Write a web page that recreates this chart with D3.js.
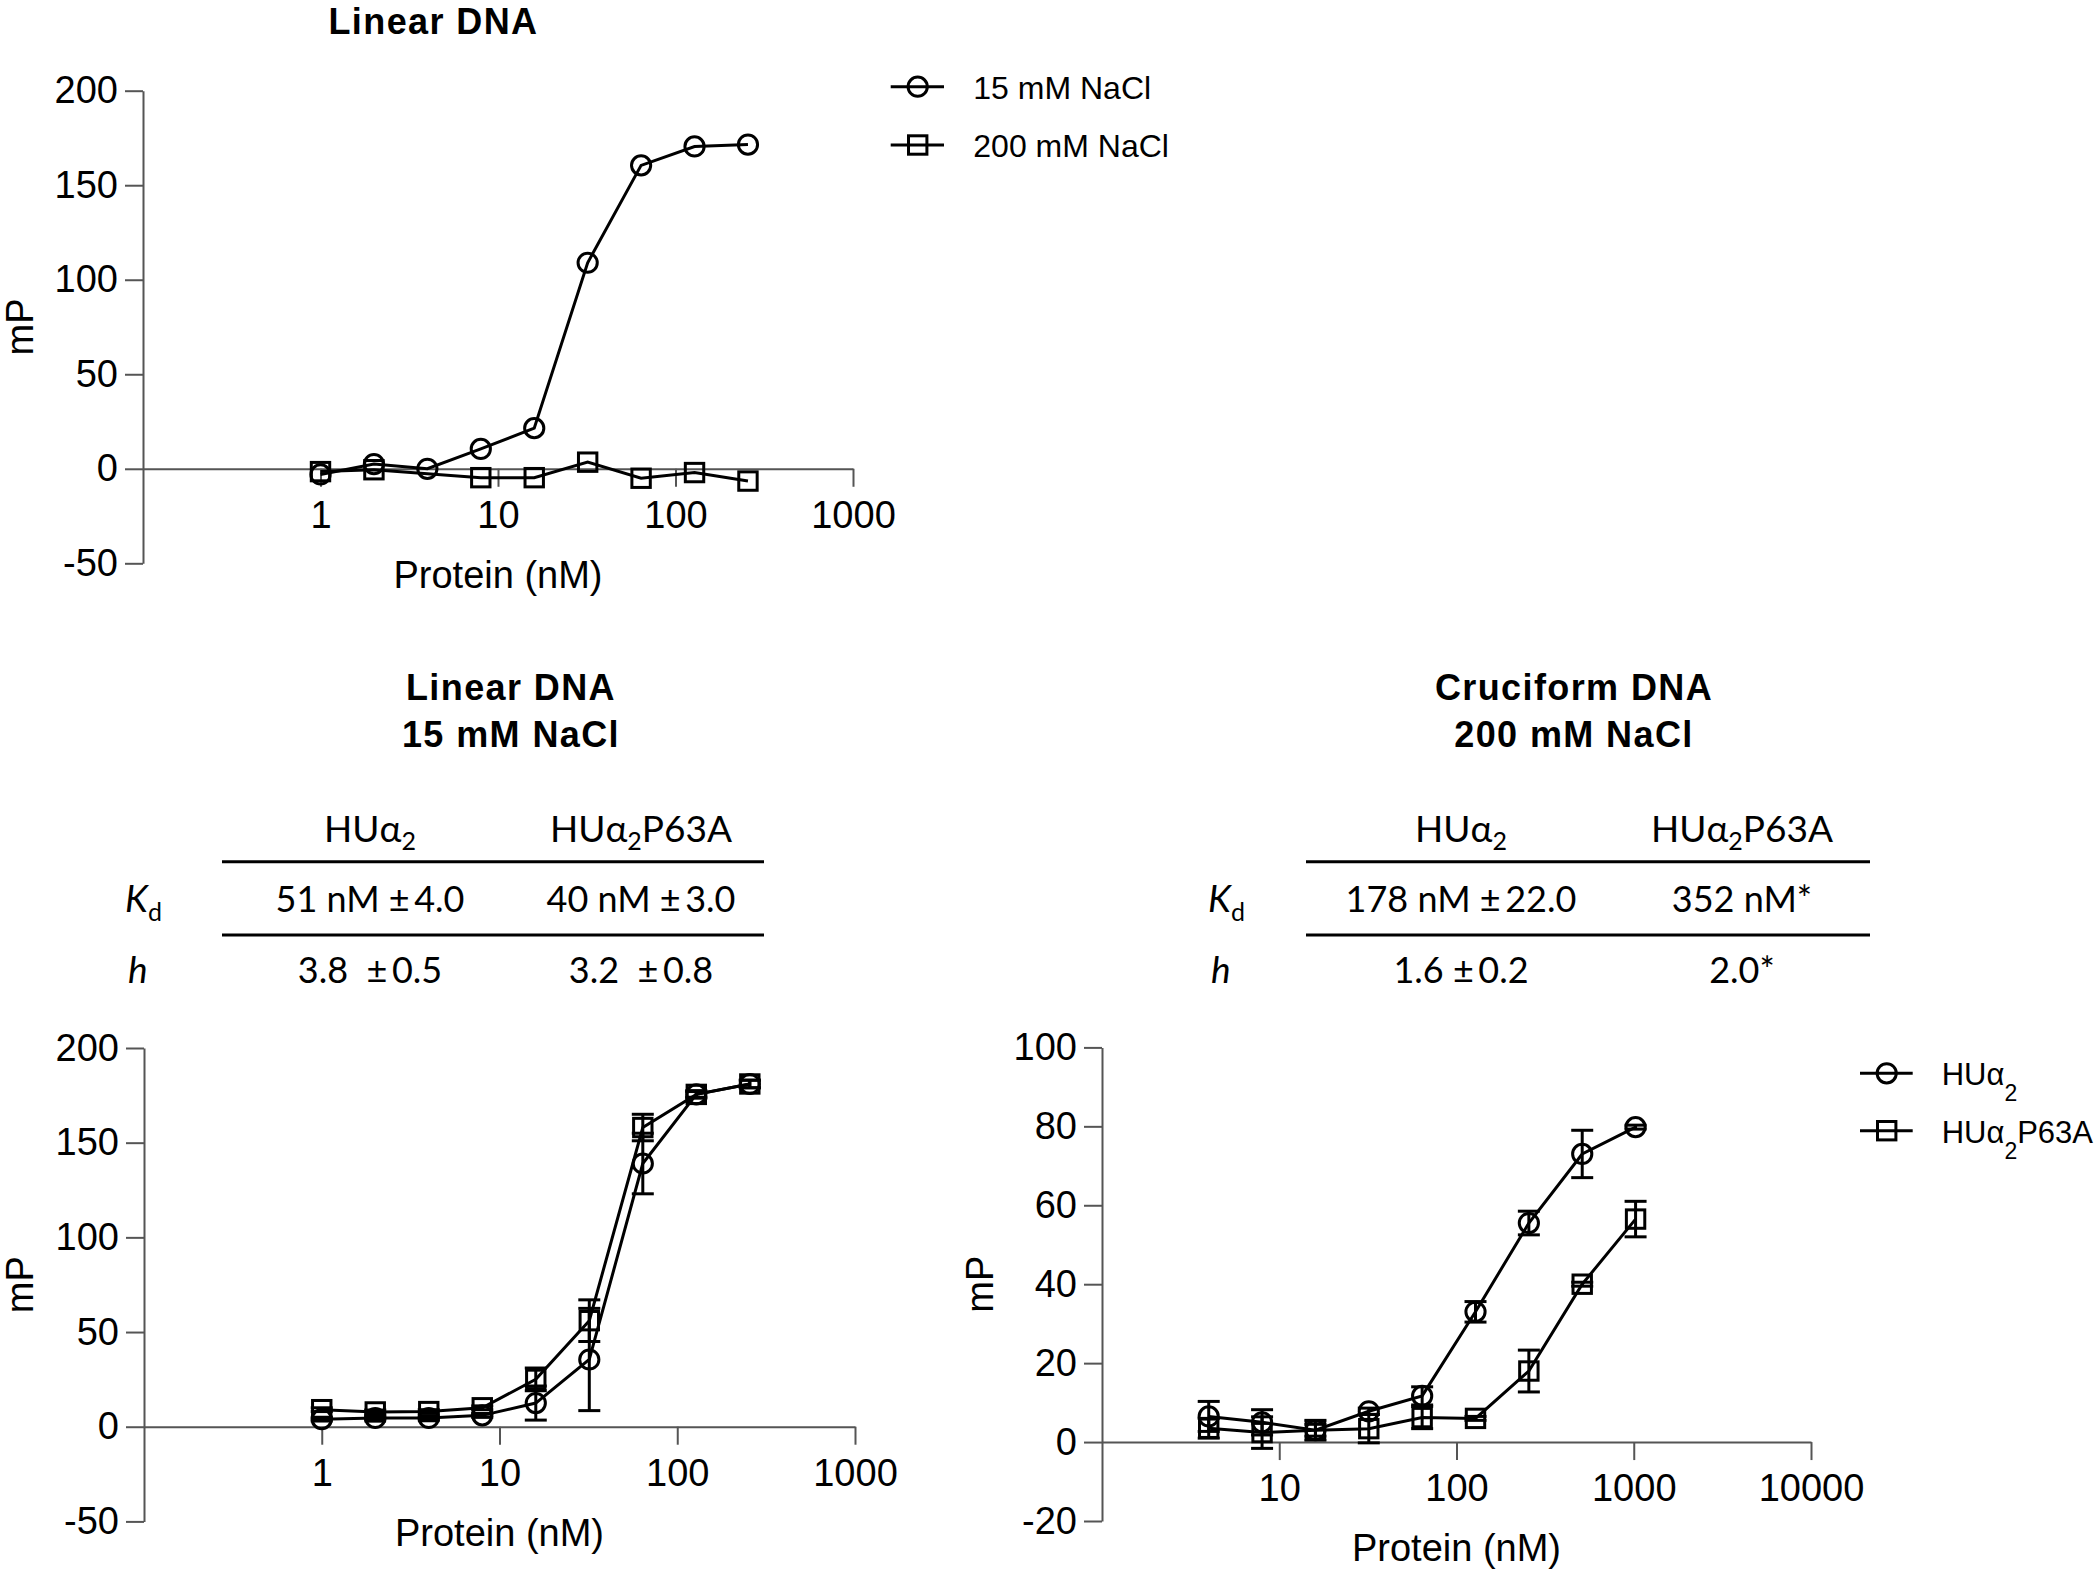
<!DOCTYPE html>
<html><head><meta charset="utf-8">
<script src="https://cdn.jsdelivr.net/npm/d3@7"></script>
<style>body{margin:0;background:#fff} svg{display:block} text{white-space:pre}</style>
</head><body>
<svg id="c" width="2100" height="1571"></svg>
<script>
// ---------- DATA ----------
// Panel A: Linear DNA, salt comparison
const concA15 = [1, 2, 4, 8, 16, 32, 64, 128, 256];
const mP15 = [-3, 2.5, 0, 10.5, 21.5, 109, 160.5, 170.5, 171.5];
const concA200 = [1, 2, 8, 16, 32, 64, 128, 256];
const mP200 = [-1.5, -0.5, -4.7, -4.7, 3.5, -5, -2, -6.5];
const legendA = ["15 mM NaCl", "200 mM NaCl"];

// Panel B: Linear DNA 15 mM NaCl
const concB = [1, 2, 4, 8, 16, 32, 64, 128, 256];
const linHU = [4, 4.6, 4.6, 6, 12.5, 35.5, 139, 175.5, 181];
const linHUerr = [1, 1, 1, 1, 9, 27, 16, 1.5, 2];
const linP63 = [9, 7.8, 8, 10, 25, 56, 158, 175.5, 181];
const linP63err = [1, 1, 1, 1, 6, 11, 7, 2, 2];

// Panel C: Cruciform DNA 200 mM NaCl
const concC = [4, 8, 16, 32, 64, 128, 256, 512, 1024];
const cruHU = [6.5, 5, 3, 7.8, 11.7, 33, 55.5, 73, 79.8];
const cruHUerr = [3.8, 3.2, 1.5, 0.8, 2.3, 2.6, 3, 6, 0.5];
const cruP63 = [3.5, 2.4, 3, 3.4, 6.2, 6, 18, 40, 56.5];
const cruP63err = [2.5, 4, 2.5, 3.6, 2.8, 0.5, 5.3, 0.5, 4.5];

const xTicksAB = [1, 10, 100, 1000];
const xTicksC = [10, 100, 1000, 10000];
const yTicksAB = [-50, 0, 50, 100, 150, 200];
const yTicksC = [-20, 0, 20, 40, 60, 80, 100];

// Tables
const tableLeft = {title: ["Linear DNA", "15 mM NaCl"], kd: ["51 nM ±\u20094.0", "40 nM ±\u20093.0"], h: ["3.8  ±\u20090.5", "3.2  ±\u20090.8"]};
const tableRight = {title: ["Cruciform DNA", "200 mM NaCl"], kd: ["178 nM ±\u200922.0", "352 nM*"], h: ["1.6 ±\u20090.2", "2.0*"]};

// ---------- DRAW ----------
const svg = d3.select("#c");
const AX = "#555";
const FONT = "'Liberation Sans', Arial, sans-serif";
const TFONT = "Lato, 'Open Sans', sans-serif";
const SW = 3;

function panel(cfg) {
  const x = d3.scaleLog().domain(cfg.xDomain).range(cfg.xRange);
  const y = d3.scaleLinear().domain(cfg.yDomain).range(cfg.yRange);
  const g = svg.append("g");

  const ya = g.append("g").attr("transform", `translate(${cfg.xRange[0]},0)`)
    .call(d3.axisLeft(y).tickValues(cfg.yTicks).tickSize(18).tickSizeOuter(0).tickPadding(7).tickFormat(d => String(d)));
  const xa = g.append("g").attr("transform", `translate(0,${y(0)})`)
    .call(d3.axisBottom(x).tickValues(cfg.xTicks).tickSize(18).tickSizeOuter(0).tickPadding(14).tickFormat(d => String(d)));
  [ya, xa].forEach(a => {
    a.select(".domain").attr("stroke", AX).attr("stroke-width", 2);
    a.selectAll(".tick line").attr("stroke", AX).attr("stroke-width", 2);
    a.selectAll("text").attr("font-family", FONT).attr("font-size", 38).attr("fill", "#000");
  });

  g.append("text").attr("x", (cfg.xRange[0] + cfg.xRange[1]) / 2).attr("y", y(0) + 119)
    .attr("text-anchor", "middle").attr("font-family", FONT).attr("font-size", 38).text("Protein (nM)");
  g.append("text").attr("transform", `translate(${cfg.yLabelX},${(cfg.yRange[0] + cfg.yRange[1]) / 2}) rotate(-90)`)
    .attr("text-anchor", "middle").attr("font-family", FONT).attr("font-size", 38).text("mP");

  const line = d3.line().x(d => x(d[0])).y(d => y(d[1]));
  cfg.series.forEach(s => {
    const pts = s.x.map((c, i) => [c, s.y[i], s.e ? s.e[i] : 0]);
    g.append("path").datum(pts).attr("d", line).attr("fill", "none").attr("stroke", "#000").attr("stroke-width", SW);
    if (s.e) {
      const eb = g.append("g").attr("stroke", "#000").attr("stroke-width", SW);
      pts.forEach(p => {
        if (!p[2]) return;
        const cx = x(p[0]), y1 = y(p[1] - p[2]), y2 = y(p[1] + p[2]);
        eb.append("line").attr("x1", cx).attr("x2", cx).attr("y1", y1).attr("y2", y2);
        eb.append("line").attr("x1", cx - 11).attr("x2", cx + 11).attr("y1", y1).attr("y2", y1);
        eb.append("line").attr("x1", cx - 11).attr("x2", cx + 11).attr("y1", y2).attr("y2", y2);
      });
    }
    pts.forEach(p => marker(g, s.shape, x(p[0]), y(p[1])));
  });
  return {x, y};
}

function marker(g, shape, cx, cy) {
  if (shape === "circle") {
    g.append("circle").attr("cx", cx).attr("cy", cy).attr("r", 9.6)
      .attr("fill", "none").attr("stroke", "#000").attr("stroke-width", SW);
  } else {
    const h = 9.2;
    g.append("rect").attr("x", cx - h).attr("y", cy - h).attr("width", 2 * h).attr("height", 2 * h)
      .attr("fill", "none").attr("stroke", "#000").attr("stroke-width", SW);
  }
}

function legend(items, x0, x1, mx, tx, ys, fs) {
  items.forEach((it, i) => {
    const yy = ys[i];
    svg.append("line").attr("x1", x0).attr("x2", x1).attr("y1", yy).attr("y2", yy)
      .attr("stroke", "#000").attr("stroke-width", SW);
    marker(svg, it.shape, mx, yy);
    const t = svg.append("text").attr("x", tx).attr("y", yy + fs * 0.39)
      .attr("font-family", FONT).attr("font-size", fs);
    if (it.parts) {
      it.parts.forEach(p => {
        t.append("tspan").attr("font-size", p.sub ? 23 : fs).attr("dy", p.dy || 0).text(p.t);
      });
    } else t.text(it.label);
  });
}

// Panel A
panel({xDomain: [0.1, 1000], xRange: [143, 853], yDomain: [-50, 200], yRange: [563.3, 90.7],
  xTicks: xTicksAB, yTicks: yTicksAB, yLabelX: 33,
  series: [{x: concA15, y: mP15, shape: "circle"}, {x: concA200, y: mP200, shape: "square"}]});
svg.append("text").attr("x", 433.5).attr("y", 34).attr("text-anchor", "middle")
  .attr("font-family", FONT).attr("font-weight", "bold").attr("font-size", 36).attr("letter-spacing", 1.4).text("Linear DNA");
legend([{shape: "circle", label: legendA[0]}, {shape: "square", label: legendA[1]}],
  890.7, 944, 917.7, 973.3, [86.7, 145], 32);

// Panel B
panel({xDomain: [0.1, 1000], xRange: [144, 855], yDomain: [-50, 200], yRange: [1521.4, 1048],
  xTicks: xTicksAB, yTicks: yTicksAB, yLabelX: 33,
  series: [{x: concB, y: linHU, e: linHUerr, shape: "circle"}, {x: concB, y: linP63, e: linP63err, shape: "square"}]});

// Panel C
panel({xDomain: [1, 10000], xRange: [1102, 1811], yDomain: [-20, 100], yRange: [1521, 1047.4],
  xTicks: xTicksC, yTicks: yTicksC, yLabelX: 993,
  series: [{x: concC, y: cruHU, e: cruHUerr, shape: "circle"}, {x: concC, y: cruP63, e: cruP63err, shape: "square"}]});
legend([
  {shape: "circle", parts: [{t: "HUα"}, {t: "2", sub: true, dy: 16}]},
  {shape: "square", parts: [{t: "HUα"}, {t: "2", sub: true, dy: 16}, {t: "P63A", dy: -16}]}
], 1860, 1912.7, 1886.7, 1941.7, [1073.3, 1130.7], 31);

// Tables
function table(tb, cx, lx0, lx1, c1, c2, labX) {
  tb.title.forEach((t, i) => svg.append("text").attr("x", cx).attr("y", [700, 746.7][i]).attr("text-anchor", "middle")
    .attr("font-family", FONT).attr("font-weight", "bold").attr("font-size", 36).attr("letter-spacing", 1.4).text(t));
  [c1, c2].forEach((c, i) => {
    const t = svg.append("text").attr("x", c).attr("y", 841.7).attr("text-anchor", "middle")
      .attr("font-family", TFONT).attr("font-size", 37);
    t.append("tspan").text("HUα");
    t.append("tspan").attr("font-size", 25).attr("dy", 8).text("2");
    if (i === 1) t.append("tspan").attr("dy", -8).text("P63A");
  });
  [861.7, 935].forEach(yy => svg.append("line").attr("x1", lx0).attr("x2", lx1).attr("y1", yy).attr("y2", yy)
    .attr("stroke", "#000").attr("stroke-width", 3));
  const kd = svg.append("text").attr("x", labX).attr("y", 912.3).attr("font-family", TFONT).attr("font-size", 37);
  kd.append("tspan").attr("font-style", "italic").text("K");
  kd.append("tspan").attr("font-size", 25).attr("dy", 9).text("d");
  svg.append("text").attr("x", labX + 3).attr("y", 983.3).attr("font-family", TFONT).attr("font-size", 37)
    .attr("font-style", "italic").text("h");
  tb.kd.forEach((v, i) => svg.append("text").attr("x", [c1, c2][i]).attr("y", 912.3).attr("text-anchor", "middle")
    .attr("font-family", TFONT).attr("font-size", 36).text(v));
  tb.h.forEach((v, i) => svg.append("text").attr("x", [c1, c2][i]).attr("y", 983.3).attr("text-anchor", "middle")
    .attr("font-family", TFONT).attr("font-size", 36).text(v));
}
table(tableLeft, 511, 222, 764, 370, 641, 125);
table(tableRight, 1574, 1306, 1870, 1461, 1742, 1208);
</script>
</body></html>
